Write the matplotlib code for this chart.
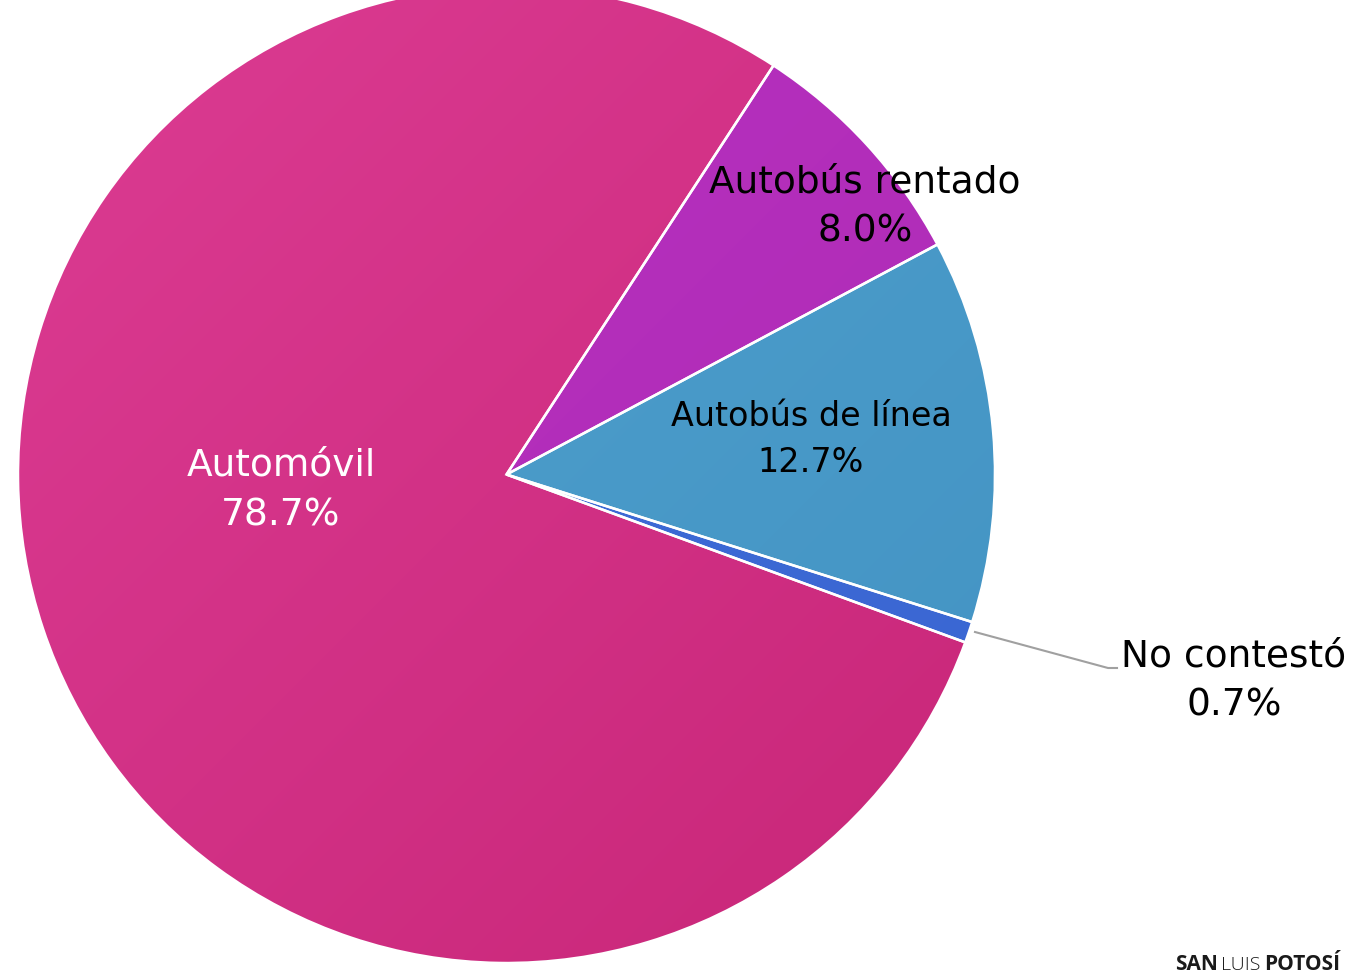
import numpy as np
import matplotlib
matplotlib.use('Agg')
import matplotlib.pyplot as plt
from matplotlib.patches import Wedge

# datos
categorias = ['Automóvil', 'Autobús rentado', 'Autobús de línea', 'No contestó']
porcentajes = [78.7, 8.0, 12.7, 0.7]
colores_claro = ['#DC3C93', '#BA32C2', '#50A2CF', '#3F6DD8']
colores_oscuro = ['#C82678', '#AC2AB3', '#4393C3', '#3A66D2']
colores_texto = ['white', 'black', 'black', 'black']

W, H = 1350, 973
fig = plt.figure(figsize=(W / 100, H / 100), dpi=100)
ax = fig.add_axes([0, 0, 1, 1])
ax.set_xlim(0, W)
ax.set_ylim(H, 0)
ax.set_aspect('equal')
ax.axis('off')

cx, cy, r = 506.5, 474.5, 488.5

# angulos en pantalla (y hacia arriba), sentido horario
total = sum(porcentajes)
inicio = -20.1
angulos = []
a = inicio
for p in porcentajes:
    ancho = p / total * 360
    angulos.append((a - ancho, a))
    a -= ancho

# gradiente diagonal
gx, gy = np.meshgrid(np.linspace(0, 1, 200), np.linspace(0, 1, 200))
grad = (gx + gy) / 2

for i, (t1, t2) in enumerate(angulos):
    # eje y invertido: angulo de pantalla -> angulo negativo en datos
    w = Wedge((cx, cy), r, -t2, -t1, facecolor='none', edgecolor='none')
    ax.add_patch(w)
    cmap = matplotlib.colors.LinearSegmentedColormap.from_list(
        'g%d' % i, [colores_claro[i], colores_oscuro[i]])
    im = ax.imshow(grad, cmap=cmap, extent=(cx - r, cx + r, cy + r, cy - r),
                   interpolation='bilinear', zorder=1)
    im.set_clip_path(w)
    ax.add_patch(Wedge((cx, cy), r, -t2, -t1, facecolor='none',
                       edgecolor='white', linewidth=1.8, zorder=2))

ax.set_xlim(0, W)
ax.set_ylim(H, 0)

# etiquetas
pos_texto = [(281, 491), (865, 207), (811, 439), (1234, 681)]
tamanos = [27, 27, 24, 27]
espacios = [1.5, 1.48, 1.5, 1.48]
for i in range(len(categorias)):
    ax.text(pos_texto[i][0], pos_texto[i][1],
            '%s\n%.1f%%' % (categorias[i], porcentajes[i]),
            ha='center', va='center', color=colores_texto[i],
            fontsize=tamanos[i], family='DejaVu Sans',
            linespacing=espacios[i], zorder=5)

# linea guia de "No contestó"
ax.plot([975, 1108, 1117], [632, 668, 668], color='#A0A0A0', lw=1.5, zorder=3)

# marca de agua
ax.text(1175, 970, 'SAN', fontsize=15, fontweight='bold', family='Open Sans',
        color='#1a1a1a', va='baseline', ha='left')
ax.text(1221, 970, 'LUIS', fontsize=14, fontweight='light', family='Open Sans',
        color='#1a1a1a', va='baseline', ha='left')
ax.text(1264, 970, 'POTOSÍ', fontsize=15, fontweight='bold', family='Open Sans',
        color='#1a1a1a', va='baseline', ha='left')

fig.savefig('out.png', dpi=100)
